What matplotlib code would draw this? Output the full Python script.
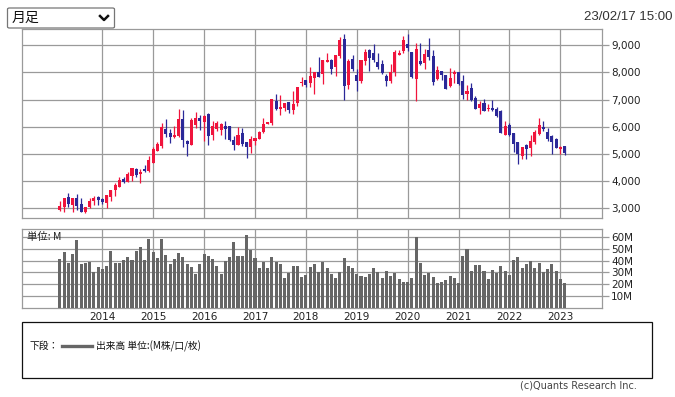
import matplotlib
matplotlib.use("Agg")
import matplotlib.pyplot as plt
from matplotlib.patches import Rectangle, FancyBboxPatch
from matplotlib.lines import Line2D
import numpy as np
import pandas as pd

plt.rcParams['font.family'] = ['DejaVu Sans']
CJK = ['Noto Sans CJK JP', 'DejaVu Sans']

# monthly bars, Mar 2013 .. Feb 2023
months = pd.period_range('2013-03', '2023-02', freq='M')

opens = [2950, 3050, 3420, 3135, 3380, 3160, 2880, 3040, 3270, 3400,
         3340, 3200, 3420, 3690, 3790, 4080, 3980, 4190, 4460, 4260, 4450, 4370,
         4670, 5120, 5310, 5910, 5770, 5640, 5670, 6290, 5470, 5320, 6070, 6330,
         6190, 6470, 5690, 5920, 5900, 6030, 6030, 5520, 5340, 5770, 5430, 5260,
         5470, 5560, 5820, 6120, 6150, 6940, 6660, 6690, 6900, 6620, 6870, 7630,
         7720, 7610, 7800, 8020, 7940, 8400, 8460, 8200, 8600, 9230, 7550, 8500,
         7920, 7670, 8440, 8830, 8710, 8390, 8310, 7860, 7680, 8010, 8660, 8780,
         9050, 8750, 7770, 8440, 8360, 8820, 8610, 7770, 8040, 7900, 7490, 7950,
         8010, 7700, 7210, 7420, 7060, 6690, 6880, 6640, 6690, 6660, 6570, 5710,
         6060, 5760, 5430, 4940, 5320, 5220, 5440, 5750, 6010, 5820, 5650, 5550,
         5170, 5290]
highs = [3270, 3380, 3580, 3380, 3540, 3380, 3050, 3370, 3470, 3440,
         3380, 3490, 3670, 3920, 4150, 4150, 4330, 4480, 4480, 4450, 4600, 4930,
         5270, 5430, 6140, 6300, 5930, 6030, 6670, 6620, 5530, 6330, 6550, 6420,
         6420, 6510, 6200, 6230, 6140, 6200, 6030, 5670, 6010, 5960, 5430, 5670,
         5590, 5860, 6310, 6180, 7040, 7210, 7170, 6870, 6900, 7320, 7450, 7830,
         7720, 8200, 8030, 8580, 8460, 8730, 8510, 8630, 9290, 9420, 8510, 8630,
         8120, 8460, 8880, 8880, 9050, 8720, 8470, 7940, 8310, 8820, 8820, 9330,
         9420, 8750, 9090, 9090, 8880, 9270, 8820, 8230, 8040, 7920, 8170, 8080,
         8010, 7920, 7550, 7610, 7120, 6960, 7040, 6840, 7000, 6720, 6630, 6200,
         6140, 5760, 5430, 5250, 5370, 5690, 5870, 6330, 6200, 5960, 5690, 5590,
         5280, 5290]
lows = [2910, 2880, 3050, 2880, 2950, 2850, 2820, 3000, 3130, 3130,
        3170, 3010, 3260, 3470, 3790, 3920, 3980, 4020, 4170, 3920, 4330, 4340,
        4670, 5120, 5220, 5640, 5420, 5590, 5610, 5250, 4940, 5320, 5960, 5900,
        5490, 5330, 5530, 5830, 5710, 5550, 5470, 5130, 5340, 5310, 4870, 5040,
        5320, 5560, 5770, 6100, 6080, 6610, 6420, 6590, 6510, 6480, 6780, 7490,
        7480, 7450, 7210, 7830, 7590, 8370, 7950, 7880, 8540, 7000, 7400, 8040,
        7310, 7610, 8290, 8070, 8370, 8140, 7940, 7490, 7610, 7860, 8630, 8700,
        8780, 7800, 6960, 8260, 8140, 8470, 7550, 7740, 7740, 7400, 7450, 7610,
        7540, 7040, 7000, 6940, 6660, 6480, 6570, 6570, 6570, 6360, 5770, 5690,
        5650, 5070, 4640, 4820, 4820, 4940, 5370, 5710, 5830, 5490, 5000, 5220,
        5000, 4980]
closes = [3070, 3380, 3160, 3380, 3100, 2850, 3050, 3270, 3370, 3290,
          3230, 3490, 3670, 3870, 4030, 3980, 4280, 4480, 4230, 4320, 4370, 4780,
          5180, 5370, 5990, 5750, 5640, 5700, 6290, 5530, 5380, 6250, 6330, 6230,
          6400, 5670, 6040, 6140, 6100, 5920, 5520, 5340, 5690, 5370, 5250, 5550,
          5590, 5810, 6090, 6180, 7010, 6660, 6730, 6870, 6610, 6840, 7450, 7660,
          7550, 7870, 8030, 7830, 8460, 8460, 8140, 8630, 9180, 7520, 8410, 8140,
          7670, 8460, 8750, 8530, 8470, 8200, 7980, 7680, 8010, 8750, 8730, 9200,
          8900, 7830, 8880, 8330, 8680, 8560, 7640, 8090, 7900, 7400, 7800, 8010,
          7590, 7160, 7310, 6980, 6660, 6850, 6570, 6690, 6630, 6410, 5770, 6020,
          5710, 5370, 5000, 5250, 5200, 5470, 5800, 6070, 5910, 5560, 5440, 5220,
          5260, 5050]
volumes = [41.3, 47.5, 38.3, 45.5, 57.3, 37.2, 38.3, 38.8, 30.2, 34.6,
           33.2, 35.5, 48.0, 38.0, 38.0, 40.5, 43.0, 40.2, 48.0, 51.4, 40.8, 58.1,
           47.2, 42.2, 58.1, 44.7, 37.2, 41.3, 46.4, 43.0, 37.2, 34.6, 29.0, 37.2,
           45.5, 43.9, 41.3, 35.5, 29.0, 39.7, 43.0, 55.9, 43.9, 43.9, 61.5, 48.9,
           42.2, 33.8, 38.8, 33.8, 43.0, 38.8, 37.2, 25.7, 29.9, 35.5, 35.5, 26.3,
           27.9, 34.6, 37.2, 30.2, 38.5, 34.1, 29.0, 25.7, 30.2, 41.9, 35.5, 34.1,
           29.0, 27.4, 26.3, 29.0, 33.8, 30.2, 25.7, 31.3, 27.4, 29.9, 24.6, 22.1,
           22.1, 25.7, 60.1, 38.0, 27.9, 29.9, 26.3, 21.2, 22.1, 23.7, 27.1, 25.7,
           21.2, 43.9, 49.7, 31.3, 36.3, 36.3, 31.3, 24.6, 32.1, 29.9, 35.5, 31.3,
           27.9, 40.5, 43.0, 33.8, 37.2, 39.7, 33.8, 38.0, 30.4, 33.0, 37.2, 31.3,
           24.6, 21.2]

price_ticks = [3000, 4000, 5000, 6000, 7000, 8000, 9000]
vol_ticks = [10, 20, 30, 40, 50, 60]

UP = '#f0143c'
DOWN = '#2b2898'
GRID = '#9a9a9a'

W, H = 675, 397
fig = plt.figure(figsize=(W / 100, H / 100), dpi=100)

def fx(px):
    return px / W

def fy(py):
    return 1 - py / H

left, right = 22.3, 601.7
ax = fig.add_axes([fx(left), fy(218.3), fx(right - left), (218.3 - 29) / H])
vax = fig.add_axes([fx(left), fy(308.3), fx(right - left), (308.3 - 229.3) / H])

x = np.arange(len(months))
o = np.array(opens)
c = np.array(closes)
cols = [UP if cc >= oo else DOWN for oo, cc in zip(o, c)]

ax.vlines(x, lows, highs, colors=cols, lw=0.9, zorder=3)
body = np.maximum(np.abs(c - o), 25)
ax.bar(x, body, bottom=np.minimum(o, c), width=0.72, color=cols, zorder=4, lw=0)

vax.bar(x, volumes, width=0.72, color='#666666', zorder=3, lw=0)

year_idx = [i for i, m in enumerate(months) if m.month == 1]
year_lbl = [str(months[i].year) for i in year_idx]

for a in (ax, vax):
    a.set_xlim(-8.87, 127.76)
    a.set_xticks(year_idx)
    a.grid(True, color=GRID, lw=0.9, zorder=0)
    a.set_axisbelow(True)
    for s in a.spines.values():
        s.set_color(GRID)
        s.set_linewidth(0.9)
    a.yaxis.tick_right()
    a.tick_params(axis='y', length=4.8, width=0.9, color=GRID, pad=2,
                  labelsize=7.5, labelcolor='#222222')
    a.tick_params(axis='x', length=0)

ax.set_ylim(2632, 9600)
ax.set_yticks(price_ticks)
ax.set_yticklabels([f'{v:,}' for v in price_ticks])
ax.tick_params(axis='x', labelbottom=False)

vax.set_ylim(0, 66.2)
vax.set_yticks(vol_ticks)
vax.set_yticklabels([f'{v}M' for v in vol_ticks])
vax.set_xticklabels(year_lbl)
vax.tick_params(axis='x', labelsize=7.5, labelcolor='#222222', pad=2.5)

fig.text(fx(27), fy(237), '単位: M', family=CJK, fontsize=7.5, va='center',
         color='#222222')

# dropdown
fig.add_artist(FancyBboxPatch((fx(7.5), fy(28)), fx(107), 20 / H,
                              boxstyle='round,pad=0,rounding_size=0.003',
                              transform=fig.transFigure, fill=False,
                              ec='#767676', lw=0.9))
fig.text(fx(12), fy(18), '月足', family=CJK, fontsize=10, va='center',
         color='#111111')
fig.add_artist(Line2D([fx(100), fx(104), fx(108)], [fy(16), fy(20), fy(16)],
                      transform=fig.transFigure, color='#111111', lw=1.8))

fig.text(fx(672), fy(17), '23/02/17 15:00', family='Liberation Sans',
         fontsize=9.5, ha='right', va='center', color='#333333')

# legend box
fig.add_artist(Rectangle((fx(22), fy(378)), fx(652 - 22), (378 - 322) / H,
                         transform=fig.transFigure, fill=False,
                         ec='#111111', lw=0.9))
fig.text(fx(30), fy(346), '下段：', family=CJK, fontsize=7, va='center',
         color='#111111')
fig.add_artist(Line2D([fx(62), fx(92)], [fy(346), fy(346)],
                      transform=fig.transFigure, color='#666666', lw=2.4))
fig.text(fx(96), fy(346), '出来高 単位:(M株/口/枚)', family=CJK, fontsize=7,
         va='center', color='#111111')

fig.text(fx(637), fy(386), '(c)Quants Research Inc.', fontsize=7,
         ha='right', va='center', color='#444444')

fig.savefig('out.png', dpi=100)
